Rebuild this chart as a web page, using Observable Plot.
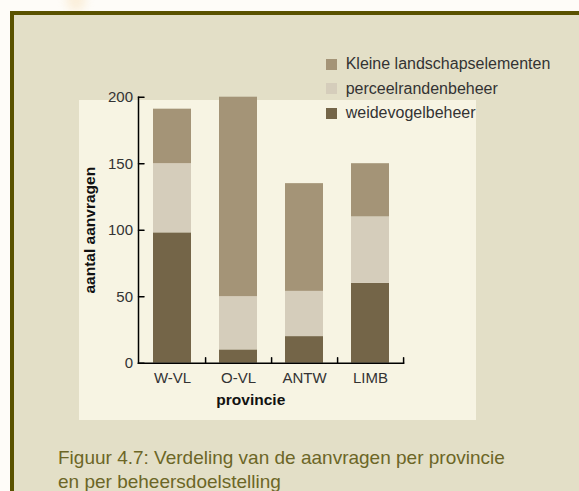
<!DOCTYPE html>
<html>
<head>
<meta charset="utf-8">
<script src="https://cdn.jsdelivr.net/npm/d3@7"></script>
<script src="https://cdn.jsdelivr.net/npm/@observablehq/plot@0.6"></script>
<style>
  html, body { margin: 0; padding: 0; background: #fefcf8; }
  #page { position: relative; width: 579px; height: 491px; overflow: hidden; font-family: "Liberation Sans", Arial, sans-serif; }
  #glow { position: absolute; left: 66px; top: -14px; width: 20px; height: 26px; border-radius: 50%; background: #f6dcb0; filter: blur(5px); opacity: 0.4; }
  #box { position: absolute; left: 10px; top: 11px; right: -10px; bottom: -10px; background: #e3dfc7; border-left: 4.5px solid #5a5200; border-top: 4.5px solid #5a5200; }
  #panel { position: absolute; left: 79px; top: 100px; width: 397px; height: 320px; background: #f7f4e3; }
  #chart { position: absolute; left: 0; top: 0; }
  #legend { position: absolute; left: 326px; top: 0; }
  .item { position: absolute; left: 0; white-space: nowrap; font-size: 16px; color: #333; line-height: 20px; }
  .sw { position: absolute; left: 0; top: 4.5px; width: 11px; height: 11px; }
  .lbl { position: absolute; left: 19.7px; top: 0; }
  #caption { position: absolute; left: 58px; top: 446px; font-size: 19px; line-height: 24px; color: #6c6626; }
</style>
</head>
<body>
<div id="page">
  <div id="glow"></div>
  <div id="box"></div>
  <div id="panel"></div>
  <div id="chart"></div>
  <div id="legend"></div>
  <div id="caption">Figuur 4.7: Verdeling van de aanvragen per provincie<br>en per beheersdoelstelling</div>
</div>
<script>
const provinces = ["W-VL", "O-VL", "ANTW", "LIMB"];
const seriesNames = ["weidevogelbeheer", "perceelrandenbeheer", "Kleine landschapselementen"];
const weidevogelbeheer = [98, 10, 20, 60];
const perceelrandenbeheer = [52, 40, 34, 50];
const kleineLandschapselementen = [41, 150, 81, 40];
const yTicks = [0, 50, 100, 150, 200];
const seriesColors = ["#746548", "#d5cdbb", "#a49477"];
const legendOrder = ["Kleine landschapselementen", "perceelrandenbeheer", "weidevogelbeheer"];

const seriesValues = [weidevogelbeheer, perceelrandenbeheer, kleineLandschapselementen];
const rows = [];
seriesNames.forEach((s, si) => {
  provinces.forEach((p, pi) => rows.push({provincie: p, type: s, value: seriesValues[si][pi]}));
});

const tickShape = {draw(context, l) { context.moveTo(0, 0); context.lineTo(0, -l); }};

const chart = Plot.plot({
  width: 579,
  height: 491,
  marginLeft: 138,
  marginRight: 176,
  marginTop: 96.7,
  marginBottom: 128.3,
  style: {background: "transparent", fontFamily: "Liberation Sans, Arial, sans-serif", fontSize: "15px", color: "#333", overflow: "visible"},
  x: {domain: provinces, paddingInner: 0.43, paddingOuter: 0.215},
  y: {domain: [0, 200]},
  color: {domain: seriesNames, range: seriesColors},
  marks: [
    Plot.barY(rows, {x: "provincie", y: "value", fill: "type"}),
    Plot.frame({anchor: "left", stroke: "#000", strokeWidth: 1.5}),
    Plot.frame({anchor: "bottom", stroke: "#000", strokeWidth: 1.5}),
    Plot.vector(yTicks, {y: d => d, frameAnchor: "left", length: 5.5, rotate: 90, anchor: "start", shape: tickShape, stroke: "#000", strokeWidth: 1.5}),
    Plot.vector(provinces, {x: d => d, frameAnchor: "bottom", length: 5.5, rotate: 0, anchor: "start", shape: tickShape, stroke: "#000", strokeWidth: 1.5, dx: 33.1}),
    Plot.axisY({ticks: yTicks, tickSize: 0, tickPadding: 5.5, label: null, fill: "#333", fontSize: 15}),
    Plot.axisX({tickSize: 0, tickPadding: 9, label: null, fill: "#333", fontSize: 15}),
    Plot.text(["provincie"], {frameAnchor: "bottom", dy: 36.5, dx: -20.2, fontWeight: "bold", fontSize: 15.5, textAnchor: "middle", lineAnchor: "middle", fill: "#111"}),
    Plot.text(["aantal aanvragen"], {frameAnchor: "left", rotate: -90, dx: -48, fontWeight: "bold", fontSize: 15.5, textAnchor: "middle", lineAnchor: "middle", fill: "#111"})
  ]
});
document.getElementById("chart").appendChild(chart);

const legend = document.getElementById("legend");
const legendTops = [54.2, 78.6, 103];
legendOrder.forEach((name, i) => {
  const item = document.createElement("div");
  item.className = "item";
  item.style.top = legendTops[i] + "px";
  const sw = document.createElement("div");
  sw.className = "sw";
  sw.style.background = seriesColors[seriesNames.indexOf(name)];
  const lbl = document.createElement("div");
  lbl.className = "lbl";
  lbl.textContent = name;
  item.appendChild(sw);
  item.appendChild(lbl);
  legend.appendChild(item);
});
</script>
</body>
</html>
